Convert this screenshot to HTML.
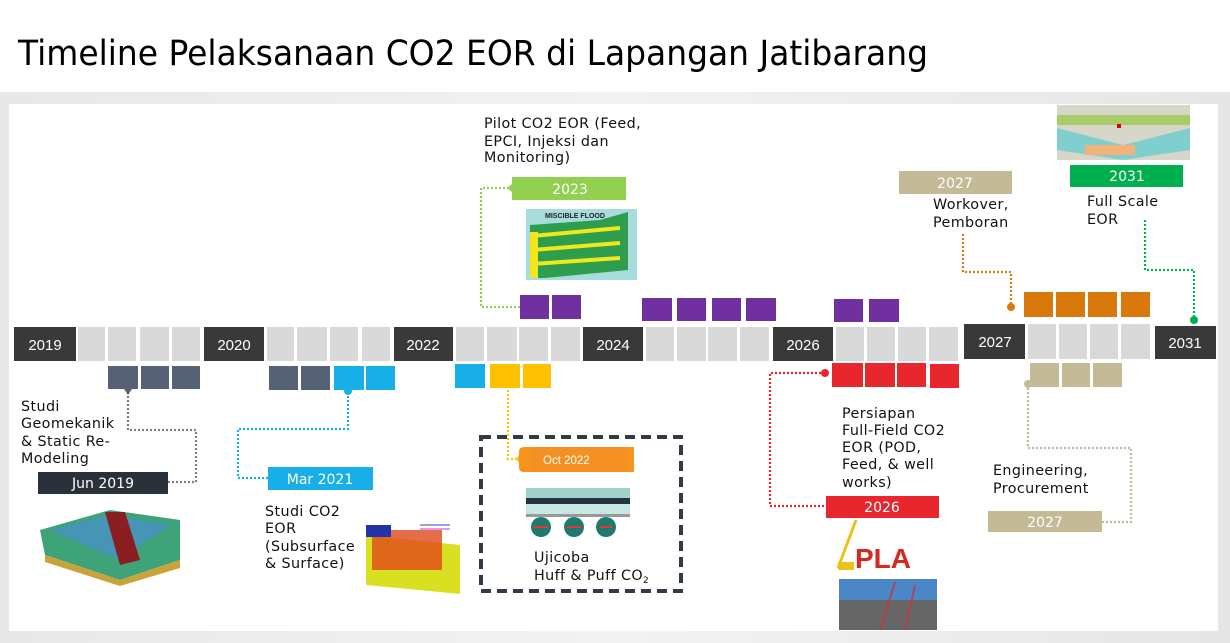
<!DOCTYPE html>
<html><head><meta charset="utf-8">
<style>
html,body{margin:0;padding:0;background:#fff;}
svg{display:block;font-family:"Liberation Sans",sans-serif;}
.t{font-family:"DejaVu Sans","Liberation Sans",sans-serif;font-size:14.3px;fill:#111;letter-spacing:0.4px;}
.y{font-family:"Liberation Sans",sans-serif;font-size:15px;fill:#fff;text-anchor:middle;}
.w{font-family:"DejaVu Sans","Liberation Sans",sans-serif;font-size:14px;fill:#fff;text-anchor:middle;}
</style></head>
<body>
<svg width="1230" height="643" viewBox="0 0 1230 643" xmlns="http://www.w3.org/2000/svg">
<defs>
<linearGradient id="bg" x1="0" y1="0" x2="1" y2="0">
<stop offset="0" stop-color="#e8e8e8"/><stop offset="0.5" stop-color="#f2f2f2"/><stop offset="1" stop-color="#e6e6e6"/></linearGradient>
</defs>
<rect width="1230" height="643" fill="#fff"/>
<rect x="0" y="92" width="1230" height="551" fill="url(#bg)"/>
<rect x="9" y="104" width="1209" height="527" fill="#fff"/>
<text x="18" y="65" font-family="DejaVu Sans, Liberation Sans, sans-serif" font-size="35" fill="#000" textLength="910" lengthAdjust="spacingAndGlyphs">Timeline Pelaksanaan CO2 EOR di Lapangan Jatibarang</text>

<g fill="#393939">
<rect x="14" y="327" width="62" height="34"/>
<rect x="204" y="327" width="60" height="34"/>
<rect x="394" y="327" width="59" height="34"/>
<rect x="583" y="327" width="60" height="34"/>
<rect x="773" y="327" width="60" height="34"/>
<rect x="964" y="324" width="61" height="35"/>
<rect x="1155" y="326" width="61" height="33"/>
</g>
<g fill="#d9d9d9">
<rect x="78" y="327" width="27" height="34"/><rect x="108" y="327" width="28" height="34"/><rect x="140" y="327" width="29" height="34"/><rect x="172" y="327" width="28" height="34"/>
<rect x="267" y="327" width="27" height="34"/><rect x="297" y="327" width="30" height="34"/><rect x="330" y="327" width="28" height="34"/><rect x="362" y="327" width="28" height="34"/>
<rect x="456" y="327" width="28" height="34"/><rect x="487" y="327" width="30" height="34"/><rect x="519" y="327" width="29" height="34"/><rect x="551" y="327" width="29" height="34"/>
<rect x="646" y="327" width="28" height="34"/><rect x="677" y="327" width="29" height="34"/><rect x="708" y="327" width="29" height="34"/><rect x="740" y="327" width="29" height="34"/>
<rect x="836" y="327" width="28" height="34"/><rect x="867" y="327" width="28" height="34"/><rect x="898" y="327" width="28" height="34"/><rect x="929" y="327" width="29" height="34"/>
<rect x="1028" y="324" width="28" height="35"/><rect x="1059" y="324" width="28" height="35"/><rect x="1090" y="324" width="28" height="35"/><rect x="1121" y="324" width="29" height="35"/>
</g>
<text class="y" x="45" y="350">2019</text>
<text class="y" x="234" y="350">2020</text>
<text class="y" x="423" y="350">2022</text>
<text class="y" x="613" y="350">2024</text>
<text class="y" x="803" y="350">2026</text>
<text class="y" x="995" y="347">2027</text>
<text class="y" x="1185" y="348">2031</text>

<g fill="#556275">
<rect x="108" y="366" width="30" height="23"/><rect x="141" y="366" width="28" height="23"/><rect x="172" y="366" width="28" height="23"/>
<rect x="269" y="366" width="29" height="24"/><rect x="301" y="366" width="29" height="24"/>
</g>
<g fill="#18afe9">
<rect x="334" y="366" width="30" height="24"/><rect x="366" y="366" width="29" height="24"/>
<rect x="455" y="364" width="30" height="24"/>
</g>
<g fill="#ffc000"><rect x="490" y="364" width="30" height="24"/><rect x="523" y="364" width="28" height="24"/></g>
<g fill="#e8262e"><rect x="832" y="363" width="31" height="24"/><rect x="865" y="363" width="30" height="24"/><rect x="897" y="363" width="29" height="24"/><rect x="930" y="364" width="29" height="24"/></g>
<g fill="#c4bb96"><rect x="1030" y="363" width="29" height="24"/><rect x="1062" y="363" width="28" height="24"/><rect x="1093" y="363" width="29" height="24"/></g>

<g fill="#7030a0">
<rect x="520" y="295" width="29" height="24"/><rect x="552" y="295" width="29" height="24"/>
<rect x="642" y="298" width="30" height="23"/><rect x="677" y="298" width="29" height="23"/><rect x="712" y="298" width="29" height="23"/><rect x="746" y="298" width="30" height="23"/>
<rect x="834" y="299" width="29" height="23"/><rect x="869" y="299" width="30" height="23"/>
</g>
<g fill="#d9790b"><rect x="1024" y="292" width="29" height="25"/><rect x="1056" y="292" width="29" height="25"/><rect x="1088" y="292" width="29" height="25"/><rect x="1121" y="292" width="29" height="25"/></g>

<g fill="none" stroke-width="2.2" stroke-dasharray="2 2">
<polyline stroke="#7a808a" points="128,392 128,430 196,430 196,482 168,482"/>
<polyline stroke="#18afe9" points="348,392 348,429 238,429 238,478 268,478"/>
<polyline stroke="#92d050" points="520,307 481,307 481,188 508,188"/>
<polyline stroke="#ffc000" points="508,390 508,459 520,459"/>
<polyline stroke="#e8262e" points="825,373 770,373 770,506 826,506"/>
<polyline stroke="#c4bb96" points="1028,384 1028,448 1131,448 1131,522 1102,522"/>
<polyline stroke="#d9790b" points="963,234 963,272 1011,272 1011,307"/>
<polyline stroke="#00b050" points="1145,220 1145,270 1194,270 1194,320"/>
</g>
<path d="M124 389 L132 389 L128 395 Z" fill="#556275"/>
<circle cx="348" cy="391" r="4" fill="#18afe9"/>
<circle cx="521" cy="459" r="4" fill="#ffc000"/>
<circle cx="825" cy="373" r="4" fill="#e8262e"/>
<circle cx="1028" cy="384" r="4" fill="#c4bb96"/>
<circle cx="1011" cy="307" r="4" fill="#d9790b"/>
<circle cx="1194" cy="320" r="4" fill="#00b050"/>

<rect x="38" y="472" width="130" height="22" fill="#2b313b"/><text class="w" x="103" y="488">Jun 2019</text>
<rect x="268" y="467" width="105" height="23" fill="#18afe9"/><text class="w" x="320" y="484">Mar 2021</text>
<path d="M512 177 L626 177 L626 200 L512 200 L512 192 L507 188 L512 184 Z" fill="#92d050"/><text class="w" x="570" y="194">2023</text>
<path d="M519 452 Q519 447 524 447 L634 447 L634 472 L524 472 Q519 472 519 467 Z" fill="#f7941d"/><rect x="532" y="447" width="95" height="25" fill="#f39021"/>
<text x="543" y="464" font-family="Liberation Sans Narrow, Liberation Sans, sans-serif" font-size="11.5" fill="#fff">Oct 2022</text>
<rect x="826" y="496" width="113" height="22" fill="#e8262e"/><text class="w" x="882" y="512">2026</text>
<rect x="988" y="511" width="114" height="21" fill="#c4bb96"/><text class="w" x="1045" y="527">2027</text>
<rect x="899" y="171" width="113" height="23" fill="#c4bb96"/><text class="w" x="955" y="188">2027</text>
<rect x="1070" y="165" width="113" height="22" fill="#00b050"/><text class="w" x="1127" y="181">2031</text>

<rect x="481" y="437" width="200" height="154" fill="none" stroke="#323a46" stroke-width="4" stroke-dasharray="10 6"/>

<text class="t"><tspan x="21" y="411">Studi</tspan><tspan x="21" y="428">Geomekanik</tspan><tspan x="21" y="446">&amp; Static Re-</tspan><tspan x="21" y="463">Modeling</tspan></text>
<text class="t"><tspan x="265" y="516">Studi CO2</tspan><tspan x="265" y="533">EOR</tspan><tspan x="265" y="551">(Subsurface</tspan><tspan x="265" y="568">&amp; Surface)</tspan></text>
<text class="t"><tspan x="484" y="128">Pilot CO2 EOR (Feed,</tspan><tspan x="484" y="146">EPCI, Injeksi dan</tspan><tspan x="484" y="162">Monitoring)</tspan></text>
<text class="t"><tspan x="534" y="562">Ujicoba</tspan><tspan x="534" y="580">Huff &amp; Puff  CO<tspan font-size="9" dy="3">2</tspan></tspan></text>
<text class="t"><tspan x="842" y="418">Persiapan</tspan><tspan x="842" y="435">Full-Field CO2</tspan><tspan x="842" y="452">EOR (POD,</tspan><tspan x="842" y="469">Feed, &amp; well</tspan><tspan x="842" y="487">works)</tspan></text>
<text class="t"><tspan x="993" y="475">Engineering,</tspan><tspan x="993" y="493">Procurement</tspan></text>
<text class="t"><tspan x="933" y="209">Workover,</tspan><tspan x="933" y="227">Pemboran</tspan></text>
<text class="t"><tspan x="1087" y="206">Full Scale</tspan><tspan x="1087" y="224">EOR</tspan></text>

<g>
<path d="M40 530 L110 510 L180 520 L180 560 L120 580 L45 555 Z" fill="#3fa37a"/>
<path d="M50 530 L110 515 L170 525 L120 560 Z" fill="#4a8fd0" opacity="0.7"/>
<path d="M105 512 L125 512 L140 560 L120 565 Z" fill="#8b1e1e"/>
<path d="M45 555 L120 580 L180 560 L180 568 L120 586 L45 562 Z" fill="#c9a23a"/>
</g>
<g>
<path d="M366 535 L460 545 L460 594 L366 585 Z" fill="#d9e021"/>
<rect x="372" y="530" width="70" height="40" fill="#e0491b" opacity="0.8"/>
<rect x="366" y="525" width="25" height="12" fill="#2233aa"/>
<line x1="420" y1="525" x2="450" y2="525" stroke="#3344cc"/><line x1="420" y1="529" x2="450" y2="529" stroke="#cc33cc"/>
</g>
<g>
<rect x="526" y="209" width="111" height="71" fill="#a8dcdc"/>
<path d="M530 225 L600 220 L628 212 L628 270 L545 278 L530 278 Z" fill="#2e9e4e"/>
<g stroke="#f2e61c" stroke-width="4"><line x1="532" y1="236" x2="620" y2="228"/><line x1="532" y1="250" x2="620" y2="243"/><line x1="532" y1="264" x2="620" y2="258"/></g>
<rect x="530" y="232" width="8" height="46" fill="#f2e61c"/>
<text x="545" y="218" font-size="7" font-weight="bold" fill="#222">MISCIBLE FLOOD</text>
</g>
<g>
<rect x="526" y="488" width="104" height="10" fill="#9fd3c7"/>
<rect x="526" y="498" width="104" height="6" fill="#234"/>
<rect x="526" y="504" width="104" height="10" fill="#c7e8e0"/>
<rect x="526" y="514" width="104" height="3" fill="#999"/>
<circle cx="541" cy="527" r="10" fill="#1f7a6e"/><circle cx="574" cy="527" r="10" fill="#1f7a6e"/><circle cx="606" cy="527" r="10" fill="#1f7a6e"/>
<g stroke="#e33" stroke-width="2"><line x1="534" y1="527" x2="548" y2="527"/><line x1="567" y1="527" x2="581" y2="527"/><line x1="600" y1="527" x2="612" y2="527"/></g>
</g>
<g>
<text x="855" y="568" font-family="Liberation Sans" font-weight="bold" font-size="28" fill="#d32a1f">PLA</text>
<line x1="838" y1="568" x2="856" y2="520" stroke="#e8c31a" stroke-width="3"/>
<rect x="838" y="562" width="16" height="8" fill="#e8c31a"/>
<rect x="839" y="579" width="98" height="51" fill="#4a86c8"/>
<rect x="839" y="600" width="98" height="30" fill="#666"/>
<g stroke="#c33" stroke-width="1.5"><line x1="880" y1="630" x2="895" y2="582"/><line x1="905" y1="630" x2="915" y2="585"/></g>
</g>
<g>
<rect x="1057" y="105" width="133" height="55" fill="#d7d7c9"/>
<rect x="1057" y="115" width="133" height="10" fill="#a9cc6b"/>
<path d="M1057 128 L1123 145 L1190 128 L1190 150 L1123 160 L1057 150 Z" fill="#7fcfcf"/>
<rect x="1085" y="145" width="50" height="10" fill="#f2b27a"/>
<rect x="1117" y="124" width="4" height="4" fill="#d00"/>
</g>
</svg>
</body></html>
